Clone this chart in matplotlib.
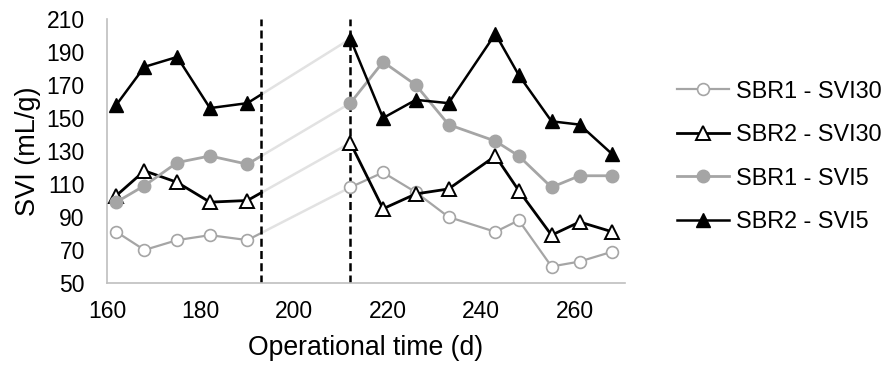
import numpy as np
import matplotlib.pyplot as plt

plt.rcParams['font.family'] = ['Liberation Sans', 'DejaVu Sans']

# operational days (d)
days = [162, 168, 175, 182, 190, 212, 219, 226, 233, 243, 248, 255, 261, 268]

sbr1_svi30 = [81, 70, 76, 79, 76, 108, 117, 105, 90, 81, 88, 60, 63, 69]
sbr2_svi30 = [103, 118, 111, 99, 100, 135, 95, 104, 107, 127, 106, 79, 87, 81]
sbr1_svi5 = [99, 109, 123, 127, 122, 159, 184, 170, 146, 136, 127, 108, 115, 115]
sbr2_svi5 = [158, 181, 187, 156, 159, 198, 150, 161, 159, 201, 176, 148, 146, 128]

# phase changes
phase_days = [193, 212]

GREY = '#a5a5a5'
GAP = '#e2e2e2'

series = [
    ("SBR1 - SVI30", sbr1_svi30, dict(color=GREY, lw=1.6, marker='o', ms=8.5, mfc='white', mec=GREY, mew=1.2)),
    ("SBR2 - SVI30", sbr2_svi30, dict(color='black', lw=2.0, marker='^', ms=9.5, mfc='white', mec='black', mew=1.4)),
    ("SBR1 - SVI5", sbr1_svi5, dict(color=GREY, lw=2.0, marker='o', ms=9, mfc=GREY, mec=GREY)),
    ("SBR2 - SVI5", sbr2_svi5, dict(color='black', lw=1.8, marker='^', ms=9.5, mfc='black', mec='black')),
]

fig = plt.figure(figsize=(8.85, 3.65), dpi=100)
ax = fig.add_axes([107 / 885, 82 / 365, 518 / 885, 264 / 365])

x = np.array(days)
split = 5  # no sampling between day 190 and day 212
for name, vals, st in series:
    y = np.array(vals, dtype=float)
    # faint line across the sampling gap, coloured up to the first phase change
    y_cut = np.interp(phase_days[0], x, y)
    ax.plot([phase_days[0], x[split]], [y_cut, y[split]], color=GAP, lw=1.8, zorder=1)
    ax.plot([x[split - 1], phase_days[0]], [y[split - 1], y_cut], color=st['color'], lw=st['lw'], zorder=2)
    ax.plot(x[:split], y[:split], zorder=3, **st)
    ax.plot(x[split:], y[split:], zorder=3, label=name, **st)

for d in phase_days:
    ax.axvline(d, color='black', lw=1.8, ls=(0, (3.2, 1.7)), zorder=2.5)

ax.set_xlim(160, 270.7)
ax.set_ylim(50, 210)
ax.set_xticks([160, 180, 200, 220, 240, 260])
ax.set_yticks(range(50, 211, 20))
ax.tick_params(length=0, labelsize=16.5)
ax.tick_params(axis='y', pad=16)
ax.tick_params(axis='x', pad=12)
for s in ['top', 'right']:
    ax.spines[s].set_visible(False)
for s in ['left', 'bottom']:
    ax.spines[s].set_color('#bfbfbf')
    ax.spines[s].set_linewidth(1.2)

ax.set_xlabel("Operational time (d)", fontsize=19.2, labelpad=9)
ax.set_ylabel("SVI (mL/g)", fontsize=19.5, labelpad=4)

ax.legend(loc='upper left', bbox_to_anchor=(1.077, 0.815), frameon=False, fontsize=16.8,
          handlelength=2.24, handletextpad=0.3, labelspacing=0.88, borderpad=0)

fig.savefig("out.png", dpi=100)
